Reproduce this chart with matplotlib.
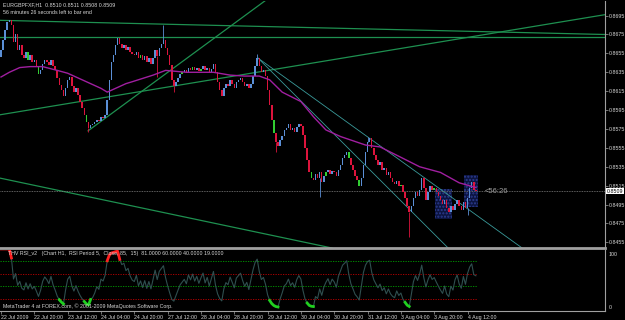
import numpy as np
import pandas as pd
import matplotlib
matplotlib.use('Agg')
import matplotlib.pyplot as plt
from matplotlib.patches import Rectangle

# hourly closes EURGBP, 22 Jul 2009 04:00 -> 4 Aug 2009 16:00
first_open = 0.8651
closes = [
    0.8659, 0.8669, 0.8680, 0.8688, 0.8690, 0.8685, 0.8667, 0.8675, 0.8659, 0.8664,
    0.8653, 0.8650, 0.8657, 0.8648, 0.8653, 0.8646, 0.8648, 0.8642, 0.8633, 0.8637,
    0.8644, 0.8648, 0.8646, 0.8643, 0.8648, 0.8642, 0.8637, 0.8629, 0.8622, 0.8616,
    0.8610, 0.8618, 0.8627, 0.8630, 0.8621, 0.8614, 0.8618, 0.8611, 0.8604, 0.8597,
    0.8590, 0.8582, 0.8576, 0.8579, 0.8580, 0.8582, 0.8585, 0.8583, 0.8588, 0.8587,
    0.8590, 0.8606, 0.8627, 0.8646, 0.8653, 0.8664, 0.8671, 0.8665, 0.8661, 0.8664,
    0.8659, 0.8662, 0.8657, 0.8654, 0.8653, 0.8657, 0.8650, 0.8653, 0.8648, 0.8652,
    0.8646, 0.8650, 0.8644, 0.8650, 0.8659, 0.8652, 0.8661, 0.8665, 0.8669, 0.8661,
    0.8653, 0.8643, 0.8627, 0.8621, 0.8625, 0.8629, 0.8633, 0.8635, 0.8637, 0.8634,
    0.8640, 0.8637, 0.8641, 0.8637, 0.8640, 0.8636, 0.8639, 0.8642, 0.8637, 0.8640,
    0.8635, 0.8639, 0.8644, 0.8635, 0.8625, 0.8616, 0.8610, 0.8618, 0.8623, 0.8621,
    0.8627, 0.8623, 0.8618, 0.8625, 0.8627, 0.8629, 0.8625, 0.8621, 0.8623, 0.8618,
    0.8623, 0.8631, 0.8642, 0.8650, 0.8642, 0.8635, 0.8637, 0.8631, 0.8616, 0.8600,
    0.8585, 0.8571, 0.8561, 0.8557, 0.8563, 0.8568, 0.8574, 0.8576, 0.8580, 0.8574,
    0.8576, 0.8572, 0.8577, 0.8580, 0.8578, 0.8569, 0.8555, 0.8542, 0.8529, 0.8523,
    0.8521, 0.8527, 0.8523, 0.8529, 0.8519, 0.8525, 0.8529, 0.8532, 0.8527, 0.8531,
    0.8529, 0.8525, 0.8532, 0.8537, 0.8544, 0.8547, 0.8551, 0.8544, 0.8537, 0.8532,
    0.8525, 0.8521, 0.8515, 0.8523, 0.8537, 0.8551, 0.8561, 0.8565, 0.8555, 0.8547,
    0.8542, 0.8537, 0.8540, 0.8532, 0.8534, 0.8526, 0.8529, 0.8523, 0.8519, 0.8517,
    0.8520, 0.8515, 0.8516, 0.8508, 0.8502, 0.8493, 0.8487, 0.8493, 0.8502, 0.8508,
    0.8504, 0.8510, 0.8523, 0.8512, 0.8500, 0.8508, 0.8515, 0.8510, 0.8512, 0.8508,
    0.8504, 0.8500, 0.8496, 0.8500, 0.8491, 0.8487, 0.8493, 0.8489, 0.8496, 0.8500,
    0.8493, 0.8489, 0.8498, 0.8491, 0.8502, 0.8512, 0.8519, 0.8510, 0.8509,
]
# wicks that stick out of the bodies
spike_hi_idx = [78, 123, 176]
spike_hi = [0.8685, 0.8654, 0.8566]
spike_lo_idx = [42, 75, 83, 132, 153, 196, 224]
spike_lo = [0.8572, 0.8630, 0.8614, 0.8551, 0.8503, 0.8461, 0.8484]
doji_idx = [13, 18, 41, 67, 87, 92, 96, 131, 149, 156, 167, 172, 192, 208]

# moving average (purple), sampled
ma_idx = [0, 4, 9, 14, 20, 27, 32, 39, 48, 51, 55, 60, 63, 73, 79, 89, 102, 110, 117,
          124, 129, 135, 144, 150, 156, 163, 175, 182, 192, 201, 211, 220, 228]
ma_val = [0.8630, 0.8635, 0.8640, 0.8641, 0.8641, 0.8637, 0.8634, 0.8627, 0.8618, 0.8614,
          0.8618, 0.8623, 0.8625, 0.8632, 0.8637, 0.8635, 0.8635, 0.8632, 0.8631,
          0.8631, 0.8627, 0.8614, 0.8604, 0.8588, 0.8574, 0.8567, 0.8558, 0.8556,
          0.8545, 0.8535, 0.8529, 0.8518, 0.8513]

# drawn objects: (idx0, price0, idx1, price1)
green_lines = [(-0.5, 0.8690, 290, 0.8675),
               (-0.5, 0.8672, 290, 0.8672),
               (-0.5, 0.8590, 290, 0.8696),
               (41.8, 0.8573, 138.7, 0.8730),
               (-0.5, 0.8523, 158.9, 0.8449)]
teal_lines = [(123.4, 0.8650, 254, 0.8443),
              (123.4, 0.8650, 215.6, 0.8447)]
boxes = [(208.3, 0.8480, 8.2, 0.0031), (222.3, 0.8492, 6.7, 0.0034)]

price_ticks = [0.8695, 0.8675, 0.8655, 0.8635, 0.8615, 0.8595, 0.8575, 0.8555,
               0.8535, 0.8515, 0.8495, 0.8475, 0.8455]
xtick_idx = list(range(0, 225, 16))
xtick_labels = ['22 Jul 2009', '22 Jul 20:00', '23 Jul 12:00', '24 Jul 04:00', '24 Jul 20:00',
                '27 Jul 12:00', '28 Jul 04:00', '28 Jul 20:00', '29 Jul 12:00', '30 Jul 04:00',
                '30 Jul 20:00', '31 Jul 12:00', '3 Aug 04:00', '3 Aug 20:00', '4 Aug 12:00']
rsi_levels = [81, 60, 40, 19]
rsi_level_colors = ['#00a000', '#c00000', '#00a000', '#c00000']
bid = 0.8509

FG = '#d8d8d8'
FRAME = '#a0a0a0'
FONT = 'Liberation Sans'
FS = 3.8

fig = plt.figure(figsize=(6.25, 3.2), dpi=100, facecolor='black')
ax = fig.add_axes([0, 0.225, 0.968, 0.772], facecolor='black')
rsi_ax = fig.add_axes([0, 0.028, 0.968, 0.191], facecolor='black', sharex=ax)

n = len(closes)
idx = np.arange(n)
c = np.array(closes)
o = np.array([first_open] + closes[:-1])
up = c >= o
colors = np.where(up, '#5b8fd6', '#dc143c').astype(object)
colors[doji_idx] = '#32cd32'
body = np.abs(c - o)
body = np.maximum(body, 0.00005)
ax.bar(idx, body, bottom=np.minimum(c, o), width=0.72, color=list(colors), linewidth=0, zorder=3)

for i, p in zip(spike_hi_idx, spike_hi):
    ax.vlines(i, max(c[i], o[i]), p, color=colors[i], lw=0.6, zorder=3)
for i, p in zip(spike_lo_idx, spike_lo):
    ax.vlines(i, p, min(c[i], o[i]), color=colors[i], lw=0.6, zorder=3)

ax.plot(ma_idx, ma_val, color='#a01fa0', lw=1.0, zorder=4)

for x0, y0, x1, y1 in green_lines:
    ax.plot([x0, x1], [y0, y1], color='#1e9050', lw=0.9, zorder=2)
for x0, y0, x1, y1 in teal_lines:
    ax.plot([x0, x1], [y0, y1], color='#3a9a9a', lw=0.6, zorder=2)
plt.rcParams['hatch.color'] = '#2c3c90'
for x0, y0, w, h in boxes:
    ax.add_patch(Rectangle((x0, y0), w, h, facecolor='#0c1440', edgecolor='#2c3c90',
                           hatch='.....', lw=0, zorder=1))

ax.axhline(bid, color='#808080', lw=0.6, ls=(0, (1, 1)), zorder=2)
ax.text(232, bid, '<56:26', color='#a0a0a0', fontsize=5.5, family=FONT, va='center')

ax.set_xlim(-0.48, 290)
ax.set_ylim(0.8449, 0.87105)
ax.yaxis.tick_right()
ax.set_yticks(price_ticks)
ax.set_yticklabels(['%.4f' % p for p in price_ticks])
ax.tick_params(axis='y', colors=FRAME, labelcolor=FG, labelsize=FS, length=2, width=0.5, pad=1)
for lab in ax.get_yticklabels():
    lab.set_family(FONT)
ax.tick_params(axis='x', bottom=False, labelbottom=False)
for s in ['top', 'left']:
    ax.spines[s].set_visible(False)
ax.spines['right'].set_color(FRAME)
ax.spines['right'].set_linewidth(0.8)
ax.spines['bottom'].set_color(FRAME)
ax.spines['bottom'].set_linewidth(2)
ax.text(1.003, (bid - 0.8449) / (0.87105 - 0.8449), '%.4f' % bid, transform=ax.transAxes,
        fontsize=FS, family=FONT, color='black', va='center', ha='left',
        bbox=dict(facecolor='white', edgecolor='none', pad=0.3))

# RSI panel
s = pd.Series([first_open] + closes)
d = s.diff()
ag = d.clip(lower=0).ewm(alpha=1 / 5, adjust=False).mean()
al = (-d.clip(upper=0)).ewm(alpha=1 / 5, adjust=False).mean()
rsi = (100 - 100 / (1 + ag / al.replace(0, np.nan))).fillna(100).values[1:]

for lv, col in zip(rsi_levels, rsi_level_colors):
    rsi_ax.hlines(lv, -0.5, n - 0.5, color=col, lw=0.6, ls=(0, (1.5, 1.5)))
rsi_ax.plot(idx, rsi, color='#2f4f4f', lw=0.8)
rsi_ax.plot(idx, np.where(rsi >= 81, rsi, np.nan), color='#ff2020', lw=2)
rsi_ax.plot(idx, np.where(rsi <= 19, rsi, np.nan), color='#20d020', lw=2)
rsi_ax.set_ylim(0.5, 98.4)
rsi_ax.set_yticks([])
rsi_ax.text(1.006, 0.93, '100', transform=rsi_ax.transAxes, fontsize=FS, family=FONT, color=FG, va='center')
rsi_ax.text(1.006, 0.05, '0', transform=rsi_ax.transAxes, fontsize=FS, family=FONT, color=FG, va='center')
rsi_ax.set_xticks(xtick_idx)
rsi_ax.set_xticklabels(xtick_labels, ha='left')
rsi_ax.tick_params(axis='x', colors=FRAME, labelcolor=FG, labelsize=FS, length=2, width=0.5, pad=0.5)
for lab in rsi_ax.get_xticklabels():
    lab.set_family(FONT)
for s_ in ['top', 'left']:
    rsi_ax.spines[s_].set_visible(False)
for s_ in ['right', 'bottom']:
    rsi_ax.spines[s_].set_color(FRAME)
    rsi_ax.spines[s_].set_linewidth(0.8)

fig.text(3 / 625, 1 - 5 / 320, 'EURGBPFXF,H1  0.8510 0.8511 0.8508 0.8509', color=FG,
         fontsize=FS, family=FONT, va='center')
fig.text(3 / 625, 1 - 12 / 320, '56 minutes 26 seconds left to bar end', color=FG,
         fontsize=FS, family=FONT, va='center')
fig.text(8 / 625, 1 - 254 / 320,
         'THV RSI_v2   (Chart H1,  RSI Period 5,  Close, 85,  15)  81.0000 60.0000 40.0000 19.0000',
         color=FG, fontsize=FS, family=FONT, va='center')
fig.text(3 / 625, 1 - 306 / 320, 'MetaTrader 4 at FOREX.com, \u00a9 2001-2009 MetaQuotes Software Corp.',
         color=FG, fontsize=FS, family=FONT, va='center')

fig.savefig('out.png', dpi=100, facecolor='black')
